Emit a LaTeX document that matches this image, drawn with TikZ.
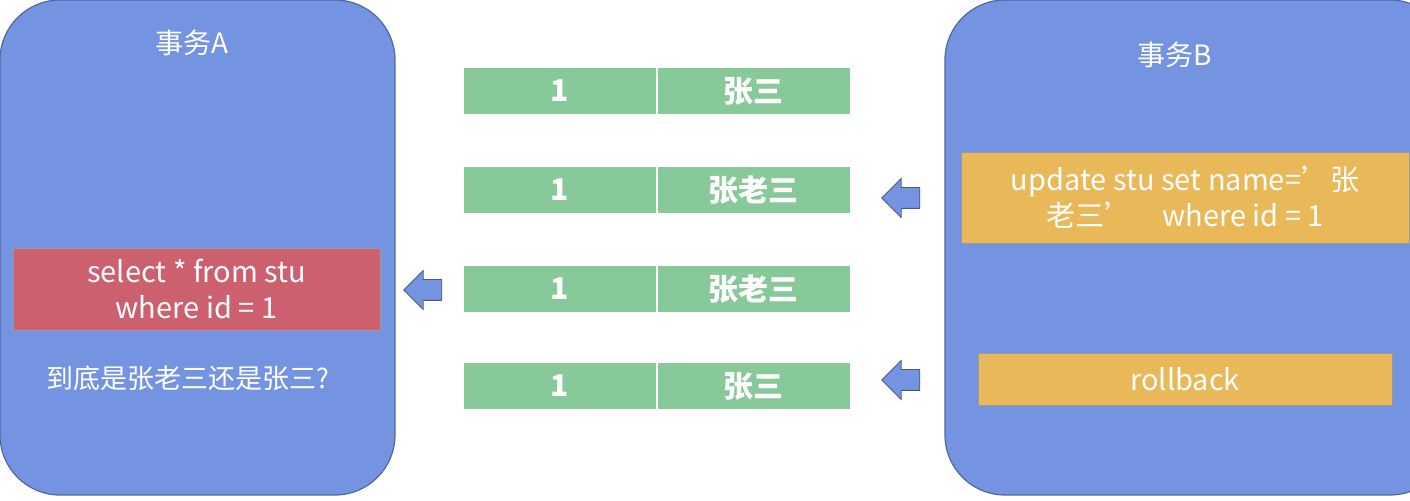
\documentclass[tikz,border=0pt]{standalone}
\usepackage{fontspec}
\setmainfont{Noto Sans CJK SC}
\usetikzlibrary{shapes.arrows}
\definecolor{tblue}{HTML}{7494E2}
\definecolor{tgreen}{HTML}{88C999}
\definecolor{tred}{HTML}{CD606E}
\definecolor{tyel}{HTML}{E9B858}
\tikzset{
 pane/.style={fill=tblue,draw=tblue!70!black,line width=0.6pt,rounded corners=30pt},
 cell/.style={fill=tgreen,draw=white,line width=1pt,minimum height=24pt,text=white,font=\fontsize{15}{17}\selectfont\bfseries,inner sep=0pt},
 box/.style={draw=black!40,line width=0.4pt,text=white,align=center,font=\fontsize{14.5}{18}\selectfont,inner sep=0pt},
 larr/.style={single arrow,shape border rotate=180,fill=tblue,draw=tblue!60!black,line width=0.4pt,single arrow head extend=4.5pt,minimum height=19pt,inner sep=0pt}
}
\begin{document}
\begin{tikzpicture}[x=0.5pt,y=-0.5pt]
\useasboundingbox (0,0) rectangle (1410,501);
\fill[white] (0,0) rectangle (1410,501);
\draw[pane] (0,0) rectangle (395,495);
\draw[pane] (945,0) rectangle (1450,495);
\node[text=white,font=\fontsize{14}{16}\selectfont] (ta) at (192,43) {事务A};
\node[text=white,font=\fontsize{14}{16}\selectfont] (tb) at (1175,55) {事务B};
\foreach \y/\t [count=\i] in {91/张三,190/张老三,289/张老三,386/张三}{
 \node[cell,minimum width=97pt] (n\i) at (560,\y) {1};
 \node[cell,minimum width=97pt] (m\i) at (753.5,\y) {\t};
}
\node[box,fill=tred,minimum width=183.5pt,minimum height=41pt] (q) at (196.5,289) {select * from stu\\where id = 1};
\node[text=white,font=\fontsize{13.5}{16}\selectfont] (w) at (188,378) {到底是张老三还是张三?};
\node[box,fill=tyel,minimum width=224pt,minimum height=45.5pt] (u) at (1185,197.5) {update stu set name=’张\\老三’\quad where id = 1};
\node[box,fill=tyel,minimum width=207pt,minimum height=26pt] (r) at (1185,379) {rollback};
\node[larr] (a1) at (906,198) {\rule{0pt}{10pt}};
\node[larr] (a2) at (428,290) {\rule{0pt}{10pt}};
\node[larr] (a3) at (906,380) {\rule{0pt}{10pt}};
\end{tikzpicture}
\end{document}
